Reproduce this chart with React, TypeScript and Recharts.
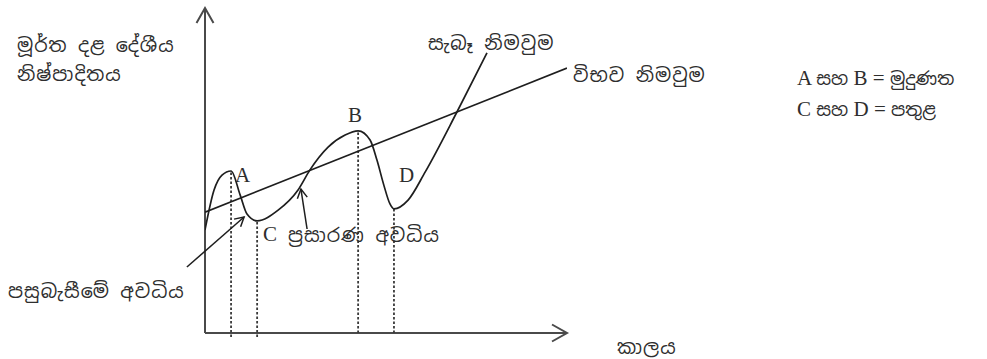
import React from 'react';
import { ComposedChart, Line, XAxis, YAxis, ReferenceLine } from 'recharts';

// Business-cycle diagram values (time on x, real GDP on y; 0–100 scale)
const actualTime = [0, 2.5, 4.7, 7.2, 9.7, 11.6, 14.4, 20.2, 25.7, 29.0, 34.0, 38.7, 42.3, 45.6, 47.5, 49.4, 51.1, 52.2, 56.1, 60.8, 69.6, 77.9];
const actualOutput = [31.7, 44.0, 48.6, 49.85, 42.5, 36.6, 34.5, 37.8, 44.0, 50.2, 57.2, 60.9, 62.2, 59.4, 53.2, 45.5, 39.7, 38.2, 40.9, 49.5, 68.0, 86.2];
const trendTime = [0, 100];
const potentialOutput = [37.2, 81.5];
const turningNames = ['A', 'C', 'B', 'D'];
const turningIndex = [3, 6, 12, 17];
const turningDrop = [-1.2, -1.2, 0, 0];
const recessionArrow = [{ x: -5.0, y: 20.3 }, { x: 10.8, y: 35.7 }];
const expansionArrow = [{ x: 28.2, y: 32.0 }, { x: 26.5, y: 44.3 }];

const actualData = actualTime.map((x, i) => ({ x, y: actualOutput[i] }));
const trendData = trendTime.map((x, i) => ({ x, y: potentialOutput[i] }));

const W = 987;
const H = 359;
const SIN = "'Noto Sans Sinhala', 'Noto Serif Sinhala', 'Iskoola Pota', 'Noto Sans', sans-serif";
const SER = "'Liberation Serif', 'Noto Serif Sinhala', 'Noto Sans Sinhala', serif";
const TXT = '#2e2e2e';
const INK = '#1e1e1e';

const arrowShape = (len: number, half: number, color: string, width: number) => (p: any) => {
  const { x1, y1, x2, y2 } = p;
  const a = Math.atan2(y2 - y1, x2 - x1);
  const bx = x2 - len * Math.cos(a);
  const by = y2 - len * Math.sin(a);
  const nx = -Math.sin(a) * half;
  const ny = Math.cos(a) * half;
  return (
    <g>
      <line x1={x1} y1={y1} x2={x2} y2={y2} stroke={color} strokeWidth={width} />
      <path d={`M ${bx + nx} ${by + ny} L ${x2} ${y2} L ${bx - nx} ${by - ny}`} fill="none" stroke={color} strokeWidth={width} />
    </g>
  );
};

export default function App() {
  return (
    <div style={{ position: 'absolute', left: 0, top: 0, width: W, height: H, background: '#fff' }}>
      <ComposedChart width={W} height={H} margin={{ top: 8, right: 420, bottom: 26, left: 205 }}>
        <XAxis type="number" dataKey="x" domain={[0, 100]} hide allowDataOverflow />
        <YAxis type="number" dataKey="y" domain={[0, 100]} hide allowDataOverflow />
        <ReferenceLine segment={[{ x: 0, y: 0 }, { x: 100, y: 0 }]} ifOverflow="visible" shape={arrowShape(15, 8.5, '#4a4a4a', 2)} />
        <ReferenceLine segment={[{ x: 0, y: 0 }, { x: 0, y: 100 }]} ifOverflow="visible" shape={arrowShape(15, 8.5, '#4a4a4a', 2)} />
        {turningIndex.map((idx, i) => (
          <ReferenceLine
            key={turningNames[i]}
            segment={[{ x: actualTime[idx], y: turningDrop[i] }, { x: actualTime[idx], y: actualOutput[idx] }]}
            ifOverflow="visible"
            stroke="#3a3a3a"
            strokeWidth={1.8}
            strokeDasharray="2.5 2"
          />
        ))}
        <Line data={trendData} dataKey="y" type="linear" dot={false} stroke={INK} strokeWidth={1.7} isAnimationActive={false} />
        <Line data={actualData} dataKey="y" type="monotone" dot={false} stroke={INK} strokeWidth={1.7} isAnimationActive={false} />
        <ReferenceLine segment={recessionArrow} ifOverflow="visible" shape={arrowShape(9, 5, INK, 1.5)} />
        <ReferenceLine segment={expansionArrow} ifOverflow="visible" shape={arrowShape(9, 5, INK, 1.5)} />
      </ComposedChart>
      <svg width={W} height={H} style={{ position: 'absolute', left: 0, top: 0, pointerEvents: 'none' }}>
        <g fill={TXT} fontFamily={SIN} fontSize={19} letterSpacing={1}>
          <text x={17} y={52}>මූර්ත දළ දේශීය</text>
          <text x={17} y={81}>නිෂ්පාදිතය</text>
          <text x={428} y={50}>සැබෑ නිමවුම</text>
          <text x={573} y={82}>විභව නිමවුම</text>
          <text x={288} y={242}>ප්‍රසාරණ අවධිය</text>
          <text x={8} y={298}>පසුබැසීමේ අවධිය</text>
          <text x={617} y={354}>කාලය</text>
        </g>
        <g fill={TXT} fontFamily={SER} fontSize={21}>
          <text x={235} y={182}>{turningNames[0]}</text>
          <text x={263} y={241}>{turningNames[1]}</text>
          <text x={348} y={122}>{turningNames[2]}</text>
          <text x={399} y={182}>{turningNames[3]}</text>
          <text x={797} y={85}>A <tspan fontFamily={SIN} fontSize={18}>සහ</tspan> B = <tspan fontFamily={SIN} fontSize={18}>මුදුණත</tspan></text>
          <text x={797} y={116}>C <tspan fontFamily={SIN} fontSize={18}>සහ</tspan> D = <tspan fontFamily={SIN} fontSize={18}>පතුළ</tspan></text>
        </g>
      </svg>
    </div>
  );
}
